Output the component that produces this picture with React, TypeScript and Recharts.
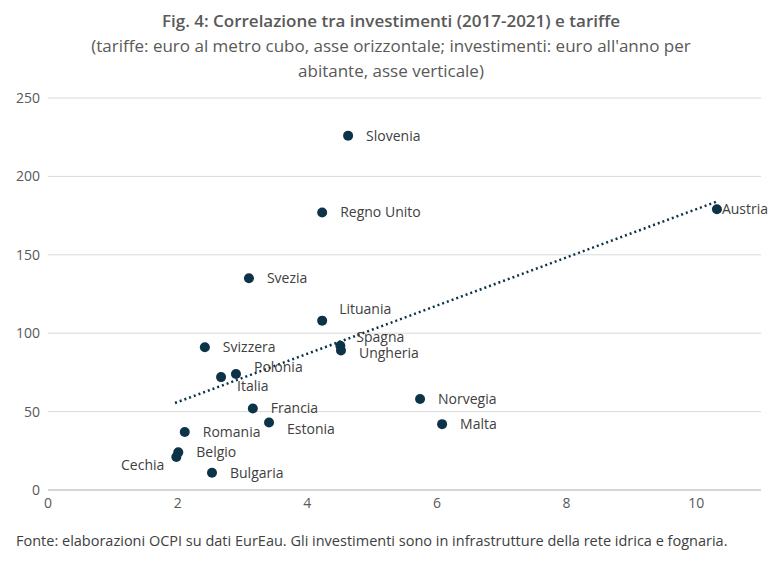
import { CartesianGrid, Scatter, ScatterChart, XAxis, YAxis } from "recharts";

const countries = ["Slovenia", "Regno Unito", "Austria", "Svezia", "Lituania", "Spagna", "Ungheria", "Svizzera", "Polonia", "Italia", "Francia", "Estonia", "Norvegia", "Malta", "Romania", "Belgio", "Cechia", "Bulgaria"];
const tariffe = [4.63, 4.23, 10.32, 3.1, 4.23, 4.51, 4.52, 2.42, 2.9, 2.67, 3.16, 3.41, 5.74, 6.08, 2.11, 2.01, 1.98, 2.53];
const investimenti = [226, 177, 179, 135, 108, 92, 89, 91, 74, 72, 52, 43, 58, 42, 37, 24, 21, 11];
const trendX = [1.96, 10.32];
const trendY = [55.5, 184];
const xTicks = [0, 2, 4, 6, 8, 10];
const yTicks = [0, 50, 100, 150, 200, 250];

const labelPos: Record<string, [number, number, string]> = {
  Slovenia: [18, 5, "start"],
  "Regno Unito": [18, 5, "start"],
  Austria: [5, 5, "start"],
  Svezia: [18, 5, "start"],
  Lituania: [17, -7, "start"],
  Spagna: [16, -4, "start"],
  Ungheria: [18, 8, "start"],
  Svizzera: [18, 5, "start"],
  Polonia: [18, -2, "start"],
  Italia: [16, 14, "start"],
  Francia: [18, 5, "start"],
  Estonia: [18, 11, "start"],
  Norvegia: [18, 5, "start"],
  Malta: [18, 5, "start"],
  Romania: [18, 5, "start"],
  Belgio: [18, 5, "start"],
  Cechia: [-12, 13, "end"],
  Bulgaria: [18, 5, "start"],
};

const points = countries.map((name, i) => ({ name, x: tariffe[i], y: investimenti[i] }));
const trend = trendX.map((x, i) => ({ x, y: trendY[i] }));

const gray = "#595959";
const navy = "#0d3349";
const font = "'Open Sans', 'Noto Sans', sans-serif";

function Dot(props: any) {
  const { cx, cy, payload } = props;
  const [dx, dy, anchor] = labelPos[payload.name];
  return (
    <g>
      <circle cx={cx} cy={cy} r={5} fill={navy} />
      <text x={cx + dx} y={cy + dy} textAnchor={anchor as any} fontSize={14} fill="#404040" fontFamily={font}>
        {payload.name}
      </text>
    </g>
  );
}

export default function App() {
  return (
    <div style={{ position: "absolute", left: 0, top: 0, width: 782, height: 579, background: "#fff", fontFamily: font, color: gray }}>
      <div style={{ position: "absolute", top: 8, width: 782, textAlign: "center", fontSize: 17, lineHeight: "25px" }}>
        <div style={{ fontWeight: 600 }}>Fig. 4: Correlazione tra investimenti (2017-2021) e tariffe</div>
        <div>(tariffe: euro al metro cubo, asse orizzontale; investimenti: euro all'anno per</div>
        <div>abitante, asse verticale)</div>
      </div>
      <ScatterChart width={782} height={579} margin={{ top: 98, right: 21, left: 8, bottom: 64 }}>
        <CartesianGrid stroke="#d9d9d9" vertical={false} />
        <XAxis type="number" dataKey="x" domain={[0, 11]} ticks={xTicks} tickLine={false} stroke="#bfbfbf" tick={{ fill: gray, fontSize: 14, fontFamily: font }} height={25} />
        <YAxis type="number" dataKey="y" domain={[0, 250]} ticks={yTicks} axisLine={false} tickLine={false} tick={{ fill: gray, fontSize: 14, fontFamily: font }} width={40} />
        <Scatter data={trend} line={{ stroke: navy, strokeWidth: 2.5, strokeDasharray: "2 3" }} shape={() => null} isAnimationActive={false} />
        <Scatter data={points} shape={Dot} isAnimationActive={false} />
      </ScatterChart>
      <div style={{ position: "absolute", top: 529, left: 16, width: 730, fontSize: 14.5, lineHeight: "23px", color: "#404040" }}>
        Fonte: elaborazioni OCPI su dati EurEau. Gli investimenti sono in infrastrutture della rete idrica e fognaria.
      </div>
    </div>
  );
}
